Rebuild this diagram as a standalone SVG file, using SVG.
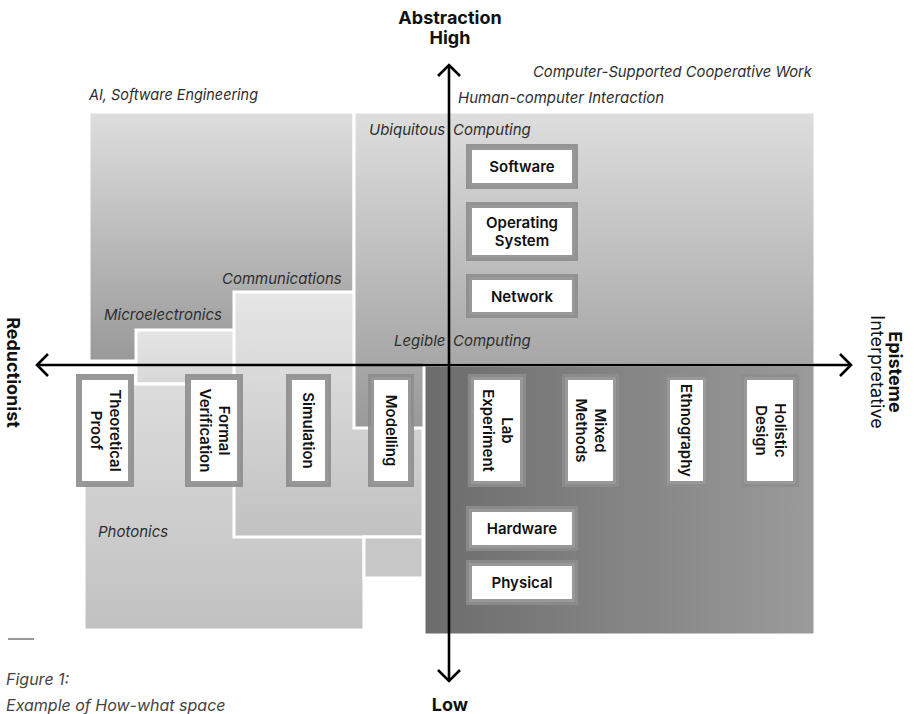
<svg xmlns="http://www.w3.org/2000/svg" width="914" height="714" viewBox="0 0 914 714">
<defs>
<style>
.reg{stroke:#fff;stroke-width:3}
.nb{fill:#fff;stroke:#8d8d8d;stroke-opacity:0.9;stroke-width:6}
.nl{font-family:Inter,"Liberation Sans",sans-serif;font-size:15px;font-weight:600;fill:#111;text-anchor:middle}
.it{font-family:Inter,"Liberation Sans",sans-serif;font-size:15px;font-style:italic;fill:#2e2e2e}
.ax{font-family:Inter,"Liberation Sans",sans-serif;font-size:18px;font-weight:700;fill:#111;text-anchor:middle}
.axr{font-family:Inter,"Liberation Sans",sans-serif;font-size:18px;font-weight:400;fill:#111;text-anchor:middle}
.axis{stroke:#000;stroke-width:2.6;fill:none}
</style>
<linearGradient id="gV" x1="0" y1="0" x2="0" y2="1"><stop offset="0" stop-color="#dedede"/><stop offset="1" stop-color="#999"/></linearGradient>
<linearGradient id="gComm" x1="0" y1="0" x2="0" y2="1"><stop offset="0" stop-color="#e6e6e6"/><stop offset="1" stop-color="#c1c1c1"/></linearGradient>
<linearGradient id="gMicro" x1="0" y1="0" x2="0" y2="1"><stop offset="0" stop-color="#e4e4e4"/><stop offset="1" stop-color="#d8d8d8"/></linearGradient>
<linearGradient id="gPhot" x1="0" y1="0" x2="0" y2="1"><stop offset="0" stop-color="#dcdcdc"/><stop offset="1" stop-color="#c1c1c1"/></linearGradient>
<linearGradient id="gDark" x1="0" y1="0" x2="1" y2="0"><stop offset="0" stop-color="#6c6c6c"/><stop offset="1" stop-color="#9b9b9b"/></linearGradient>
<marker id="chev" viewBox="0 0 24 24" refX="12.5" refY="12" markerWidth="24" markerHeight="24" markerUnits="userSpaceOnUse" orient="auto-start-reverse">
<path d="M1.5,1 L12.5,12 L1.5,23" fill="none" stroke="#000" stroke-width="2.6"/>
</marker>
</defs>

<g id="regions">
<rect id="r-ai" class="reg" x="89" y="112" width="265" height="249" fill="url(#gV)"/>
<rect id="r-micro" class="reg" x="136" y="330" width="100" height="54" fill="url(#gMicro)"/>
<rect id="r-phot" class="reg" x="84" y="384" width="280" height="246" fill="url(#gPhot)"/>
<rect id="r-comm" class="reg" x="234" y="292" width="189" height="245" fill="url(#gComm)"/>
<rect id="r-small" class="reg" x="364" y="537" width="59" height="41" fill="#c7c7c7"/>
<rect id="r-hci" class="reg" x="354" y="112" width="461" height="316" fill="url(#gV)"/>
<rect id="r-dark" class="reg" x="424" y="365" width="391" height="270" fill="url(#gDark)"/>
</g>

<g id="labels">
<text class="it" x="89" y="100" textLength="169" lengthAdjust="spacingAndGlyphs">AI, Software Engineering</text>
<text class="it" x="533" y="77" textLength="279" lengthAdjust="spacingAndGlyphs">Computer-Supported Cooperative Work</text>
<text class="it" x="458" y="103">Human-computer Interaction</text>
<text class="it"><tspan x="369" y="135">Ubiquitous</tspan><tspan x="453" y="135">Computing</tspan></text>
<text class="it"><tspan x="394" y="346">Legible</tspan><tspan x="453" y="346">Computing</tspan></text>
<text class="it" x="222" y="284">Communications</text>
<text class="it" x="104" y="320">Microelectronics</text>
<text class="it" x="98" y="537">Photonics</text>
</g>

<g id="n-software"><rect class="nb" x="469" y="147" width="106" height="39"/><text class="nl" x="522" y="172">Software</text></g>
<g id="n-os"><rect class="nb" x="469" y="205" width="106" height="53"/><text class="nl"><tspan x="522" y="228">Operating</tspan><tspan x="522" y="246">System</tspan></text></g>
<g id="n-network"><rect class="nb" x="469" y="277" width="106" height="38"/><text class="nl" x="522" y="302">Network</text></g>
<g id="n-hardware"><rect class="nb" x="469" y="509" width="106" height="39"/><text class="nl" x="522" y="534">Hardware</text></g>
<g id="n-physical"><rect class="nb" x="469" y="563" width="106" height="39"/><text class="nl" x="522" y="588">Physical</text></g>

<g id="n-theoretical"><rect class="nb" x="79" y="377" width="52" height="107"/><text class="nl" transform="translate(105,430.5) rotate(90)"><tspan x="0" y="-4.5">Theoretical</tspan><tspan x="0" y="14.5">Proof</tspan></text></g>
<g id="n-formal"><rect class="nb" x="188" y="377" width="52" height="107"/><text class="nl" transform="translate(214,430.5) rotate(90)"><tspan x="0" y="-4.5">Formal</tspan><tspan x="0" y="14.5">Verification</tspan></text></g>
<g id="n-simulation"><rect class="nb" x="289" y="377" width="39" height="107"/><text class="nl" transform="translate(308.5,430.5) rotate(90)" x="0" y="5.5">Simulation</text></g>
<g id="n-modelling"><rect class="nb" x="371" y="377" width="40" height="107"/><text class="nl" transform="translate(391,430.5) rotate(90)" x="0" y="5.5">Modelling</text></g>
<g id="n-lab"><rect class="nb" x="471" y="377" width="52" height="107"/><text class="nl" transform="translate(497,430.5) rotate(90)"><tspan x="0" y="-4.5">Lab</tspan><tspan x="0" y="14.5">Experiment</tspan></text></g>
<g id="n-mixed"><rect class="nb" x="565" y="377" width="51" height="107"/><text class="nl" transform="translate(590.5,430.5) rotate(90)"><tspan x="0" y="-4.5">Mixed</tspan><tspan x="0" y="14.5">Methods</tspan></text></g>
<g id="n-ethnography"><rect class="nb" x="667" y="377" width="39" height="107"/><text class="nl" transform="translate(686.5,430.5) rotate(90)" x="0" y="5.5">Ethnography</text></g>
<g id="n-holistic"><rect class="nb" x="744" y="377" width="52" height="107"/><text class="nl" transform="translate(770,430.5) rotate(90)"><tspan x="0" y="-4.5">Holistic</tspan><tspan x="0" y="14.5">Design</tspan></text></g>

<g id="axes">
<line class="axis" x1="449" y1="65" x2="449" y2="681" marker-start="url(#chev)" marker-end="url(#chev)"/>
<line class="axis" x1="37" y1="365" x2="851" y2="365" marker-start="url(#chev)" marker-end="url(#chev)"/>
</g>

<g id="axis-labels">
<text class="ax" x="450" y="24">Abstraction</text>
<text class="ax" x="450" y="44">High</text>
<text class="ax" x="450" y="711">Low</text>
<text class="ax" transform="translate(7,372.5) rotate(90)" x="0" y="0">Reductionist</text>
<text class="ax" transform="translate(889,372) rotate(90)" x="0" y="0">Episteme</text>
<text class="axr" transform="translate(871,372) rotate(90)" x="0" y="0">Interpretative</text>
</g>

<g id="caption">
<line x1="8" y1="639" x2="34" y2="639" stroke="#333" stroke-width="1"/>
<text class="it" style="font-size:16px;fill:#444" x="6" y="685">Figure 1:</text>
<text class="it" style="font-size:16px;fill:#444" x="6" y="711">Example of How-what space</text>
</g>
</svg>
